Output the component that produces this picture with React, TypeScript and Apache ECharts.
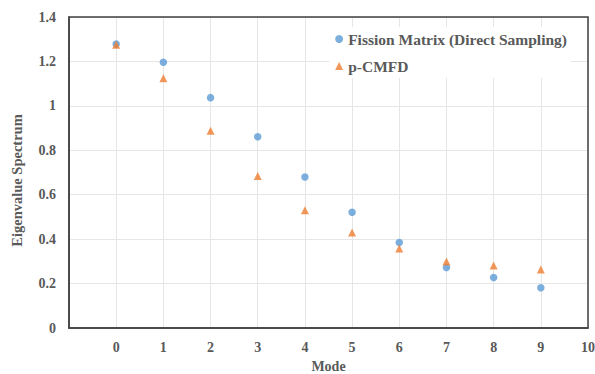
import React, { useEffect, useRef } from "react";
import * as echarts from "echarts";

const modes = [0, 1, 2, 3, 4, 5, 6, 7, 8, 9];
const fissionMatrix = [1.278, 1.196, 1.037, 0.861, 0.68, 0.521, 0.385, 0.272, 0.227, 0.181];
const pCMFD = [1.275, 1.124, 0.888, 0.684, 0.53, 0.43, 0.358, 0.299, 0.281, 0.263];

const FONT = "'Liberation Serif', 'Times New Roman', serif";
const TEXT = "#595959";

export default function App() {
  const ref = useRef<HTMLDivElement>(null);
  useEffect(() => {
    if (!ref.current) return;
    const chart = echarts.init(ref.current, undefined, { renderer: "svg" });
    chart.setOption({
      animation: false,
      backgroundColor: "#ffffff",
      grid: {
        left: 69,
        top: 17,
        right: 7,
        bottom: 46,
        outerBoundsMode: "none",
        containLabel: false,
        show: true,
        borderColor: "#404040",
        borderWidth: 1.5,
        z: 5,
      },
      legend: {
        orient: "vertical",
        right: 24,
        top: 27,
        backgroundColor: "#ffffff",
        padding: [4, 4, 4, 6],
        itemGap: 11,
        itemWidth: 8,
        itemHeight: 8,
        textStyle: { fontFamily: FONT, fontWeight: "bold", fontSize: 15.5, color: TEXT },
        data: [
          { name: "Fission Matrix (Direct Sampling)", icon: "circle" },
          { name: "p-CMFD", icon: "triangle" },
        ],
      },
      xAxis: {
        type: "value",
        min: -1,
        max: 10,
        interval: 1,
        name: "Mode",
        nameLocation: "middle",
        nameGap: 31,
        nameTextStyle: { fontFamily: FONT, fontWeight: "bold", fontSize: 14, color: TEXT },
        axisLine: { show: true, onZero: false, lineStyle: { color: "#404040", width: 1.5 } },
        axisTick: { show: false },
        axisLabel: {
          fontFamily: FONT,
          fontWeight: "bold",
          fontSize: 14,
          color: TEXT,
          margin: 12,
          formatter: (v: number) => (v < 0 ? "" : String(v)),
        },
        splitLine: { show: true, lineStyle: { color: "#e6e6e6", width: 1 } },
      },
      yAxis: {
        type: "value",
        min: 0,
        max: 1.4,
        interval: 0.2,
        name: "Eigenvalue Spectrum",
        nameLocation: "middle",
        nameGap: 45,
        nameTextStyle: { fontFamily: FONT, fontWeight: "bold", fontSize: 14.5, color: TEXT, padding: [0, 16, 0, 0] },
        axisLine: { show: true, onZero: false, lineStyle: { color: "#404040", width: 1.5 } },
        axisTick: { show: false },
        axisLabel: {
          fontFamily: FONT,
          fontWeight: "bold",
          fontSize: 14,
          color: TEXT,
          margin: 13,
          formatter: (v: number) => String(Math.round(v * 10) / 10),
        },
        splitLine: { show: true, lineStyle: { color: "#e6e6e6", width: 1 } },
      },
      series: [
        {
          name: "Fission Matrix (Direct Sampling)",
          type: "scatter",
          symbol: "circle",
          symbolSize: 7.5,
          itemStyle: { color: "#5B9BD5" },
          data: modes.map((m, i) => [m, fissionMatrix[i]]),
          z: 3,
        },
        {
          name: "p-CMFD",
          type: "scatter",
          symbol: "triangle",
          symbolSize: 8,
          itemStyle: { color: "#ED7D31" },
          data: modes.map((m, i) => [m, pCMFD[i]]),
          z: 4,
        },
      ],
    });
    return () => chart.dispose();
  }, []);
  return <div ref={ref} style={{ width: 595, height: 374, position: "absolute", left: 0, top: 0 }} />;
}
